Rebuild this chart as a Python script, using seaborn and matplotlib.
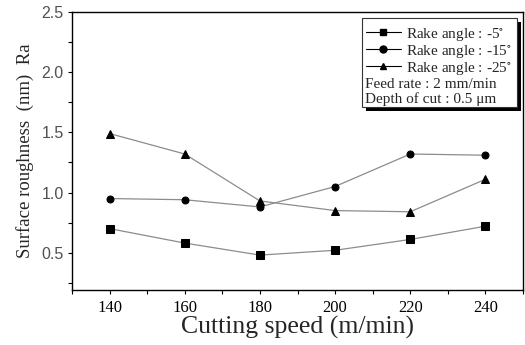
import numpy as np
import pandas as pd
import seaborn as sns
import matplotlib.pyplot as plt
from matplotlib.lines import Line2D
from matplotlib.patches import Rectangle

speed = [140, 160, 180, 200, 220, 240]
ra_5 = [0.70, 0.58, 0.48, 0.52, 0.61, 0.72]
ra_15 = [0.95, 0.94, 0.88, 1.05, 1.32, 1.31]
ra_25 = [1.49, 1.32, 0.93, 0.85, 0.84, 1.11]
labels = ["Rake angle : -5$^{\\circ}$", "Rake angle : -15$^{\\circ}$", "Rake angle : -25$^{\\circ}$"]
markers = ["s", "o", "^"]
notes = ["Feed rate : 2 mm/min", "Depth of cut : 0.5 \u03bcm"]

sns.set_theme(style="ticks")
plt.rcParams["font.family"] = ["Liberation Serif", "DejaVu Serif"]
plt.rcParams["mathtext.fontset"] = "stix"

fig = plt.figure(figsize=(5.25, 3.45), dpi=100)
ax = fig.add_axes([72 / 525, 1 - 290 / 345, 451 / 525, 278 / 345])

for vals, mk in zip([ra_5, ra_15, ra_25], markers):
    df = pd.DataFrame({"speed": speed, "ra": vals})
    sns.lineplot(data=df, x="speed", y="ra", ax=ax, color="#8c8c8c", lw=0.9,
                 marker=mk, markersize=5.5 if mk != "o" else 5,
                 markerfacecolor="black", markeredgecolor="black")

ax.set_xlim(130, 250)
ax.set_ylim(0.19, 2.5)
ax.set_xticks(speed)
ax.set_xticks(np.arange(130, 251, 10), minor=True)
ax.set_yticks([0.5, 1.0, 1.5, 2.0, 2.5])
ax.set_yticks(np.arange(0.25, 2.5, 0.25), minor=True)
ax.tick_params(which="both", direction="out", length=3, width=0.8, colors="black")
ax.tick_params(axis="x", labelsize=12, pad=4)
ax.tick_params(axis="y", labelsize=11.5, labelcolor="#505050", pad=3)
for t in ax.get_yticklabels():
    t.set_family(["Liberation Sans", "DejaVu Sans"])
for s in ax.spines.values():
    s.set_linewidth(1.0)
    s.set_color("black")

ax.set_xlabel("Cutting speed (m/min)", fontsize=18.5, labelpad=0)
ax.set_ylabel("Surface roughness  (nm)  Ra", fontsize=13.5, labelpad=5)

# legend box with drop shadow, drawn in axes fraction
bx, by, bw, bh = 0.643, 0.658, 0.344, 0.320
ax.add_patch(Rectangle((bx + 0.009, by - 0.015), bw, bh, transform=ax.transAxes,
                       facecolor="black", edgecolor="none", zorder=5, clip_on=False))
ax.add_patch(Rectangle((bx, by), bw, bh, transform=ax.transAxes,
                       facecolor="white", edgecolor="#333333", lw=0.8, zorder=6,
                       clip_on=False))

handles = [Line2D([], [], color="black", lw=0.8, marker=m, markersize=5,
                  markerfacecolor="black") for m in markers]
leg = ax.legend(handles, labels, loc="upper left",
                bbox_to_anchor=(bx, by + bh - 0.014),
                fontsize=11, frameon=False, handlelength=2.3, handletextpad=0.35,
                labelspacing=0.0, borderpad=0.25, borderaxespad=0)
leg.set_zorder(7)
for i, note in enumerate(notes):
    ax.text(bx + 0.006, 0.741 - i * 0.054, note, transform=ax.transAxes,
            fontsize=11, va="center", ha="left", zorder=8)

fig.savefig("out.png", dpi=100)
